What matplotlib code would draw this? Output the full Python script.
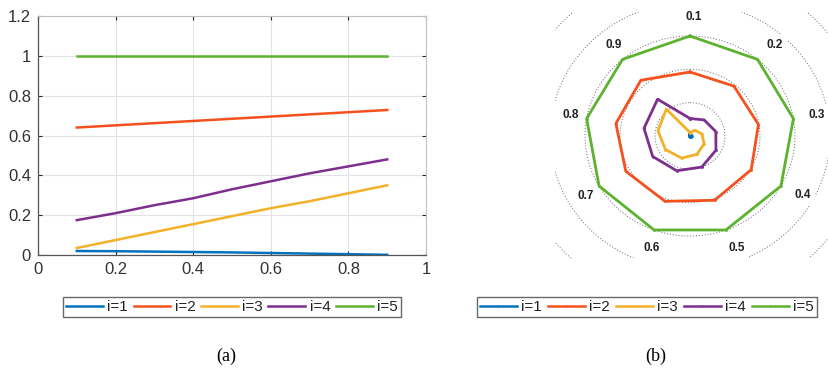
import numpy as np
import matplotlib
matplotlib.use("Agg")
import matplotlib.pyplot as plt
from matplotlib.lines import Line2D

plt.rcParams['font.family'] = ['Liberation Sans', 'DejaVu Sans']

# ---- data ----
x_vals = [0.1, 0.2, 0.3, 0.4, 0.5, 0.6, 0.7, 0.8, 0.9]
labels = ["i=1", "i=2", "i=3", "i=4", "i=5"]
s1 = [0.020, 0.019, 0.017, 0.015, 0.013, 0.010, 0.007, 0.004, 0.001]
s2 = [0.64, 0.651, 0.662, 0.673, 0.684, 0.695, 0.706, 0.717, 0.728]
s3 = [0.035, 0.075, 0.115, 0.155, 0.195, 0.235, 0.27, 0.31, 0.35]
s4 = [0.175, 0.21, 0.25, 0.285, 0.33, 0.37, 0.41, 0.445, 0.48]
s5 = [1.0, 1.0, 1.0, 1.0, 1.0, 1.0, 1.0, 1.0, 1.0]
series = [s1, s2, s3, s4, s5]
colors = ["#0072BD", "#F4511E", "#F2B128", "#7E2F8E", "#5DB330"]
spoke_labels = ["0.1", "0.2", "0.3", "0.4", "0.5", "0.6", "0.7", "0.8", "0.9"]
xticks = [0, 0.2, 0.4, 0.6, 0.8, 1]
xticklabels = ["0", "0.2", "0.4", "0.6", "0.8", "1"]
yticks = [0, 0.2, 0.4, 0.6, 0.8, 1, 1.2]
yticklabels = ["0", "0.2", "0.4", "0.6", "0.8", "1", "1.2"]
rings = [1/3, 2/3, 1.0, 4/3, 5/3]

W, H = 829, 371
fig = plt.figure(figsize=(W/100, H/100), dpi=100)

def fx(px): return px / W
def fy(py): return 1 - py / H

# ---- (a) line chart ----
axa = fig.add_axes([fx(38), fy(255), fx(426) - fx(38), fy(16) - fy(255)])
for s, c, l in zip(series, colors, labels):
    axa.plot(x_vals, s, color=c, lw=1.8, label=l)
axa.set_xlim(0, 1)
axa.set_ylim(0, 1.2)
axa.set_xticks(xticks)
axa.set_xticklabels(xticklabels)
axa.set_yticks(yticks)
axa.set_yticklabels(yticklabels)
axa.grid(True, color="#e3e3e3", lw=0.8)
axa.set_axisbelow(True)
axa.tick_params(direction="in", length=3, labelsize=12, colors="#262626",
                labelcolor="#333333", width=0.8, pad=5, top=True, right=True)
for side in ["left", "bottom"]:
    axa.spines[side].set_color("#555555")
    axa.spines[side].set_linewidth(0.9)
for side in ["top", "right"]:
    axa.spines[side].set_color("#c0c0c0")
    axa.spines[side].set_linewidth(0.8)

# ---- (b) radar chart ----
cx, cy = 690, 136
sx, sy = 105, 100
x0, x1, y0, y1 = 555, 829, 12, 258
axb = fig.add_axes([fx(x0), fy(y1), fx(x1) - fx(x0), fy(y0) - fy(y1)])
axb.set_xlim((x0 - cx) / sx, (x1 - cx) / sx)
axb.set_ylim((cy - y1) / sy, (cy - y0) / sy)
axb.axis("off")
t = np.linspace(0, 2 * np.pi, 400)
for r in rings:
    axb.plot(r * np.sin(t), r * np.cos(t), ls=(0, (1, 2)), color="#666666",
             lw=0.7, zorder=1)
n = len(spoke_labels)
ang = np.array([2 * np.pi * k / n for k in range(n)])
for s, c, l in zip(series, colors, labels):
    v = np.array(s + [s[0]])
    a = np.append(ang, ang[0])
    axb.plot(v * np.sin(a), v * np.cos(a), color=c, lw=2.0, marker=".",
             markersize=2, zorder=3)
for k, lab in enumerate(spoke_labels):
    r = 1.19
    axb.text(r * np.sin(ang[k]) - 0.04, r * np.cos(ang[k]), lab, ha="left",
             va="center", fontsize=8.5, fontweight="bold", color="#222222",
             bbox=dict(facecolor="white", edgecolor="none", pad=3), zorder=2,
             clip_on=False)

# ---- legends ----
def make_legend(xl, xr, marker):
    handles = [Line2D([], [], color=c, lw=1.8, marker=marker, markersize=2)
               for c in colors]
    leg = fig.legend(handles, labels, ncol=5, loc="lower left",
                     bbox_to_anchor=(fx(xl), fy(317), fx(xr) - fx(xl), fy(294) - fy(317)),
                     mode="expand", fontsize=11, handlelength=2.4,
                     handletextpad=0.3, columnspacing=0.5, borderpad=0.2,
                     borderaxespad=0, frameon=True, fancybox=False)
    leg.get_frame().set_edgecolor("#444444")
    leg.get_frame().set_linewidth(1.0)
    for txt in leg.get_texts():
        txt.set_color("#222222")
    return leg

make_legend(63, 401, None)
make_legend(477, 817, "|")

fig.text(fx(226), fy(356), "(a)", ha="center", va="center", fontsize=13,
         family=["Liberation Serif", "DejaVu Serif"])
fig.text(fx(656), fy(356), "(b)", ha="center", va="center", fontsize=13,
         family=["Liberation Serif", "DejaVu Serif"])

fig.savefig("out.png", dpi=100)
